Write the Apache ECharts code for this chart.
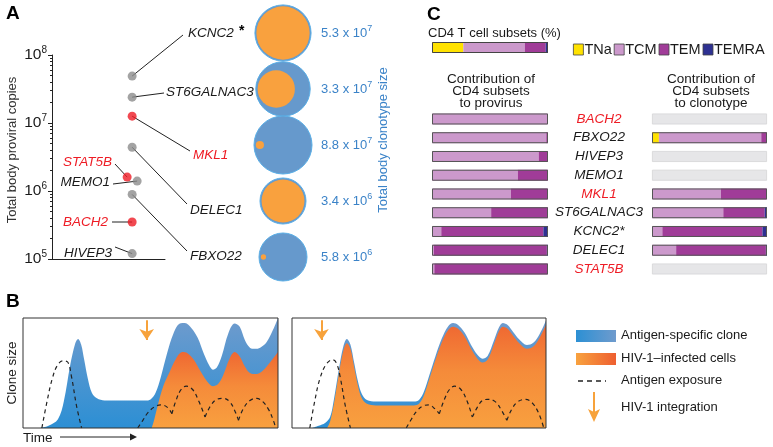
<!DOCTYPE html>
<html><head><meta charset="utf-8">
<script src="https://cdn.jsdelivr.net/npm/echarts@6/dist/echarts.min.js"></script>
<style>html,body{margin:0;padding:0;background:#fff}#c{width:773px;height:447px}</style>
</head><body><div id="c"></div>
<script>
// ---------- Panel A data ----------
const genesA = ['KCNC2','ST6GALNAC3','MKL1','DELEC1','STAT5B','MEMO1','FBXO22','BACH2','HIVEP3'];
const proviralCopies = [4.9e7, 2.4e7, 1.26e7, 4.4e6, 1.6e6, 1.4e6, 8.9e5, 3.5e5, 1.2e5];
const redGenes = ['MKL1','STAT5B','BACH2'];
const circleGenes = ['KCNC2','ST6GALNAC3','MKL1','DELEC1','FBXO22'];
const clonotypeSize = [5.3e7, 3.3e7, 8.8e7, 3.4e6, 5.8e6];
const infectedFraction = [0.9, 0.47, 0.02, 0.87, 0.012];
const yTicksA = [1e5, 1e6, 1e7, 1e8];

// ---------- Panel C data ----------
const subsetNames = ['TNa','TCM','TEM','TEMRA'];
const overallSubsets = [27, 53, 18, 2];
const genesC = ['BACH2','FBXO22','HIVEP3','MEMO1','MKL1','ST6GALNAC3','KCNC2*','DELEC1','STAT5B'];
const provirusTNa   = [0, 0, 0, 0, 0, 0, 0, 0, 0];
const provirusTCM   = [100, 98.5, 92, 74, 68, 51, 8, 1.5, 2];
const provirusTEM   = [0, 1.5, 8, 26, 32, 49, 88, 97.5, 98];
const provirusTEMRA = [0, 0, 0, 0, 0, 0, 4, 1, 0];
const clonotypeTNa   = [0, 6, 0, 0, 0, 0, 0, 0, 0];
const clonotypeTCM   = [0, 89, 0, 0, 60, 62, 9, 21, 0];
const clonotypeTEM   = [0, 5, 0, 0, 40, 36, 87, 78, 0];
const clonotypeTEMRA = [0, 0, 0, 0, 0, 2, 4, 1, 0];

// ---------- Panel B data (schematic, time %, size %) ----------
const b1Clone = [[6.7,0],[10,2],[13.7,8],[16,24],[18.5,57],[20.5,77],[21.6,81],[22.8,76],[24,62],[25.5,44],[27,32],[29,27],[32,25],[40,25],[48,25],[50,26],[52,32],[54,46],[56.5,68],[59,86],[61.5,95],[63.5,95.5],[66,91],[68.5,82],[71,67],[73,57],[74.5,53],[76,55],[78,66],[80.5,86],[83,95],[85,92],[87,80],[89,73],[91,72],[93,73],[95.5,78],[98,89],[100,100]];
const b1Infected = [[50.5,0],[51.5,8],[53,22],[55,38],[57.5,51],[60,63],[62.5,69],[64.5,68],[67,62],[69.5,52],[72,43],[74.5,38],[76.5,40],[78.5,48],[81,63],[83,69],[85,65],[87,56],[89,50],[91.5,49],[94,52],[97,60],[100,69]];
const b1Exposure = [
  [[7.4,0],[9.5,25],[11.5,45],[13.5,57],[15.7,61],[17.5,60],[19,47],[21,20],[23,0]],
  [[45,0],[47,7],[49,14],[51.5,19],[54,21],[56.5,19],[58.4,13]],
  [[58.4,13],[60,25],[62,35],[64,38],[66.5,35],[69,24],[71.4,10]],
  [[71.4,10],[73.5,20],[76,26],[78.5,27],[81,24],[83,16],[84.5,7]],
  [[84.5,7],[86.5,18],[89,25],[91.6,27],[94,24],[96.5,16],[98,8],[99,1]]
];
const b1Integration = 48.5;

const b2Clone = [[7.9,0],[10.5,2],[13,4.5],[15,10],[16.5,26],[18.5,54],[20.2,74],[21.6,81],[23,76],[24.5,59],[26,42],[27.5,31],[29.5,25.5],[33,24],[48,24],[50,25.5],[52,33.5],[54,47.5],[56.5,65.5],[59,81.5],[61.5,92.5],[63.4,95.5],[65.5,93.5],[68,86.5],[70.5,75.5],[73,66.5],[75,63],[77,65.5],[79.5,79.5],[81.5,91.5],[83,95.5],[85,93.5],[87,87.5],[89.5,80.5],[92.5,75.5],[95,77.5],[97.5,85.5],[100,98]];
const b2Infected = [[13.8,0],[15,6],[16.5,22],[18.5,50],[20.2,70],[21.6,77],[23,72],[24.5,55],[26,38],[27.5,27],[29.5,22],[33,20.5],[40,20.5],[48,20.5],[50,22],[52,30],[54,44],[56.5,62],[59,78],[61.5,89],[63.4,92],[65.5,90],[68,83],[70.5,72],[73,63],[75,59.5],[77,62],[79.5,76],[81.5,88],[83,92],[85,90],[87,84],[89.5,77],[92.5,72],[95,74],[97.5,82],[100,94]];
const b2Exposure = [
  [[7,0],[9,25],[11,45],[13.5,58],[16,62],[17.5,59],[19,46],[21,20],[23,0]],
  [[45,0],[47,8],[49,15],[51.5,20],[54,21],[56,18],[58,13]],
  [[58,13],[60,26],[62,35],[64,38],[66.5,35],[69,24],[71,10]],
  [[71,10],[73,19],[75,25],[77,26],[80,24],[82.5,16],[84.6,7]],
  [[84.6,7],[86.5,17],[89,24],[92,26],[94.5,23],[97,14],[99,1]]
];
const b2Integration = 11.6;

// ---------- styling / layout ----------
const FONT = 'Arial, "Liberation Sans", Helvetica, sans-serif';
const RED = '#ee1c25', GREY = '#8c8c8c', TXT = '#1a1a1a', BLUE_TXT = '#3b83c8';
const SUBSET_COLORS = ['#ffe200', '#cc99cc', '#a03c98', '#2e3192'];
const ORANGE = '#f7a23b';
const dotNudge = {STAT5B: -5, MEMO1: 5};
const labelLayoutA = {
  KCNC2:      {tx:188, ty:33,  lx:183, ly:35,  align:'left'},
  ST6GALNAC3: {tx:166, ty:92,  lx:164, ly:93,  align:'left'},
  MKL1:       {tx:193, ty:155, lx:190, ly:151, align:'left'},
  DELEC1:     {tx:190, ty:210, lx:187, ly:204, align:'left'},
  FBXO22:     {tx:190, ty:256, lx:187, ly:251, align:'left'},
  STAT5B:     {tx:112, ty:162, lx:115, ly:164, align:'right'},
  MEMO1:      {tx:110, ty:182, lx:113, ly:184, align:'right'},
  BACH2:      {tx:108, ty:222, lx:112, ly:222, align:'right'},
  HIVEP3:     {tx:112, ty:253, lx:115, ly:247, align:'right'}
};

const chart = echarts.init(document.getElementById('c'), null, {renderer: 'canvas'});

const hidden = {show:false};
function hiddenValueAxis(grid, min, max, extra) {
  return Object.assign({gridIndex: grid, type:'value', min:min, max:max, show:false, splitLine:hidden}, extra || {});
}
function outerDiam(v) { return 8.5 * Math.log10(v) - 9.5; }
function sci(v) {
  const e = Math.floor(Math.log10(v));
  const m = (v / Math.pow(10, e)).toFixed(1);
  return '{t|' + m + ' x 10}{s|' + e + '}';
}

const series = [];

// Panel A dots
series.push({
  type:'scatter', xAxisIndex:0, yAxisIndex:0, symbolSize:9, z:5,
  data: genesA.map((g, i) => ({
    value:[1, proviralCopies[i]],
    symbolOffset:[dotNudge[g] || 0, 0],
    itemStyle:{color: redGenes.includes(g) ? RED : GREY}
  }))
});

// Panel A circles
const outerD = clonotypeSize.map(outerDiam);
series.push({
  type:'scatter', xAxisIndex:1, yAxisIndex:1,
  data: circleGenes.map((g, i) => ({value:[0, i], symbolSize: outerD[i]})),
  itemStyle:{color:'#6699cc', borderColor:'#59aee6', borderWidth:1, opacity:1},
  label:{show:true, position:'right', formatter: p => sci(clonotypeSize[p.dataIndex]),
    rich:{t:{fontSize:13, color:BLUE_TXT, fontFamily:FONT}, s:{fontSize:9, color:BLUE_TXT, fontFamily:FONT, padding:[0,0,8,0]}}},
  labelLayout:{x:321, align:'left', verticalAlign:'middle', dy:0}
});
series.push({
  type:'scatter', xAxisIndex:1, yAxisIndex:1, z:3,
  data: circleGenes.map((g, i) => {
    const d = outerD[i] * Math.sqrt(infectedFraction[i]);
    const off = Math.max(0, (outerD[i] - d) / 2 - 1.8);
    return {value:[0, i], symbolSize: d, symbolOffset:[-off, 0]};
  }),
  itemStyle:{color:'#f9a13e', opacity:1}
});

// Panel C overall bar
subsetNames.forEach((n, k) => series.push({
  type:'bar', name:n, xAxisIndex:2, yAxisIndex:2, stack:'all', barWidth:11,
  data:[overallSubsets[k]], itemStyle:{color:SUBSET_COLORS[k]}
}));
series.push({type:'bar', xAxisIndex:2, yAxisIndex:2, barWidth:11, barGap:'-100%', silent:true, z:3,
  data:[overallSubsets.reduce((a, b) => a + b, 0)],
  itemStyle:{color:'rgba(0,0,0,0)', borderColor:'#444', borderWidth:1}});

// Panel C provirus / clonotype bars
const provirus = [provirusTNa, provirusTCM, provirusTEM, provirusTEMRA];
const clonotype = [clonotypeTNa, clonotypeTCM, clonotypeTEM, clonotypeTEMRA];
function rowSum(sets, i) { return sets.reduce((a, s) => a + s[i], 0); }
[[provirus, 3], [clonotype, 4]].forEach(([sets, ax]) => {
  sets.forEach((arr, k) => series.push({
    type:'bar', name:subsetNames[k], xAxisIndex:ax, yAxisIndex:ax, stack:'s' + ax, barWidth:11, barGap:'-100%',
    data: arr.map(v => v || null), itemStyle:{color:SUBSET_COLORS[k]}
  }));
  series.push({type:'bar', xAxisIndex:ax, yAxisIndex:ax, stack:'s' + ax, barWidth:11, barGap:'-100%', silent:true,
    data: genesC.map((g, i) => rowSum(sets, i) > 0 ? null : 100),
    itemStyle:{color:'#e6e6e8', borderColor:'#d4d4d6', borderWidth:0.8}});
  series.push({type:'bar', xAxisIndex:ax, yAxisIndex:ax, barWidth:11, barGap:'-100%', silent:true, z:3,
    data: genesC.map((g, i) => { const s = rowSum(sets, i); return s > 0 ? s : null; }),
    itemStyle:{color:'rgba(0,0,0,0)', borderColor:'#555', borderWidth:1}});
});

// Panel B
const blueGrad = new echarts.graphic.LinearGradient(0, 0, 0, 1, [{offset:0, color:'#6f9bcd'}, {offset:1, color:'#2c8fd4'}]);
const orangeGrad = new echarts.graphic.LinearGradient(0, 0, 0, 1, [{offset:0, color:'#ef6832'}, {offset:0.45, color:'#f58b3a'}, {offset:1, color:'#f8a03f'}]);
function areaSeries(ax, data, grad) {
  return {type:'line', xAxisIndex:ax, yAxisIndex:ax, data:data, smooth:0.35, symbol:'none',
    lineStyle:{width:0}, areaStyle:{color:grad, opacity:1}, silent:true};
}
[[5, b1Clone, b1Infected, b1Exposure, b1Integration], [6, b2Clone, b2Infected, b2Exposure, b2Integration]].forEach(([ax, cl, inf, expo, integ]) => {
  const s = areaSeries(ax, cl, blueGrad);
  s.markLine = {silent:true, symbol:['none', 'arrow'], symbolSize:[11, 11], label:{show:false},
    lineStyle:{color:ORANGE, width:2, type:'solid'},
    data:[[{coord:[integ, 98]}, {coord:[integ, 80]}]]};
  series.push(s);
  series.push(areaSeries(ax, inf, orangeGrad));
  expo.forEach(arc => series.push({type:'line', xAxisIndex:ax, yAxisIndex:ax, data:arc, smooth:0.4, symbol:'none', silent:true, z:4,
    lineStyle:{color:'#222', width:1.2, type:[4, 3.5]}}));
});

const option = {
  animation:false,
  backgroundColor:'#fff',
  textStyle:{fontFamily:FONT},
  legend:{left:573, top:42, itemWidth:10, itemHeight:11, itemGap:2, padding:0, selectedMode:false,
    data:subsetNames, icon:'rect',
    itemStyle:{borderColor:'#444', borderWidth:0.8},
    textStyle:{fontSize:14.5, color:TXT, fontFamily:FONT, padding:[0, 0, 0, -4]}},
  grid:[
    {left:52, top:55, width:113, height:204},
    {left:255, top:5, width:56, height:280},
    {left:432, top:42, width:116, height:11},
    {left:432, top:109.6, width:116, height:168.75},
    {left:652, top:109.6, width:115, height:168.75},
    {left:23, top:318, width:255, height:110, show:true, borderColor:'#333', borderWidth:1, backgroundColor:'rgba(0,0,0,0)', z:5},
    {left:292, top:318, width:254, height:110, show:true, borderColor:'#333', borderWidth:1, backgroundColor:'rgba(0,0,0,0)', z:5}
  ],
  xAxis:[
    {gridIndex:0, type:'value', min:0, max:1.41, axisLine:{show:true, onZero:false, lineStyle:{color:'#222', width:1}},
      axisTick:hidden, axisLabel:hidden, splitLine:hidden},
    hiddenValueAxis(1, -1, 1),
    hiddenValueAxis(2, 0, 100),
    hiddenValueAxis(3, 0, 100),
    hiddenValueAxis(4, 0, 100),
    hiddenValueAxis(5, 0, 100),
    hiddenValueAxis(6, 0, 100)
  ],
  yAxis:[
    {gridIndex:0, type:'log', logBase:10, min:yTicksA[0], max:yTicksA[yTicksA.length - 1],
      axisLine:{show:true, onZero:false, lineStyle:{color:'#222', width:1}},
      axisTick:{show:true, length:4, lineStyle:{color:'#222'}},
      minorTick:{show:true, splitNumber:9, length:2, lineStyle:{color:'#222'}},
      splitLine:hidden,
      axisLabel:{margin:5, formatter: v => '{b|10}{s|' + Math.round(Math.log10(v)) + '}',
        rich:{b:{fontSize:15.5, color:TXT, fontFamily:FONT}, s:{fontSize:10, color:TXT, fontFamily:FONT, padding:[0,0,9,0]}}}},
    {gridIndex:1, type:'category', data:circleGenes, inverse:true, show:false},
    {gridIndex:2, type:'category', data:['CD4'], show:false},
    {gridIndex:3, type:'category', data:genesC, inverse:true, position:'right',
      axisLine:hidden, axisTick:hidden,
      axisLabel:{margin:51, align:'center',
        formatter: v => (redGenes.includes(v) ? '{r|' : '{k|') + v + '}',
        rich:{r:{color:RED, fontStyle:'italic', fontSize:13.5, fontFamily:FONT},
              k:{color:TXT, fontStyle:'italic', fontSize:13.5, fontFamily:FONT}}}},
    {gridIndex:4, type:'category', data:genesC, inverse:true, show:false},
    hiddenValueAxis(5, 0, 100),
    hiddenValueAxis(6, 0, 100)
  ],
  series: series
};
chart.setOption(option);

// ---------- annotations ----------
const g = [];
function txt(x, y, text, o) {
  o = o || {};
  const el = {type:'text', x:x, y:y, rotation:o.rotation || 0, z:10, silent:true,
    style:{text:text, fill:o.fill || TXT, fontSize:o.size || 13, fontFamily:FONT,
      fontStyle:o.italic ? 'italic' : 'normal', fontWeight:o.bold ? 'bold' : 'normal',
      textAlign:o.align || 'left', textVerticalAlign:'middle', lineHeight:o.lh}};
  g.push(el);
}
// panel letters
txt(6, 14, 'A', {size:19, bold:true, fill:'#000'});
txt(6, 302, 'B', {size:19, bold:true, fill:'#000'});
txt(427, 15, 'C', {size:19, bold:true, fill:'#000'});

// Panel A labels and connectors
genesA.forEach((gname, i) => {
  const L = labelLayoutA[gname];
  const p = chart.convertToPixel({xAxisIndex:0, yAxisIndex:0}, [1, proviralCopies[i]]);
  const px = p[0] + (dotNudge[gname] || 0), py = p[1];
  g.push({type:'line', silent:true, z:1, shape:{x1:px, y1:py, x2:L.lx, y2:L.ly}, style:{stroke:'#222', lineWidth:1}});
  txt(L.tx, L.ty, gname, {italic:true, size:13.5, align:L.align, fill: redGenes.includes(gname) ? RED : TXT});
});
txt(239, 31, '*', {size:14, bold:true, fill:'#000'});
txt(12, 150, 'Total body proviral copies', {size:13, fill:'#333', align:'center', rotation:Math.PI / 2});
txt(383, 140, 'Total body clonotype size', {size:13, fill:BLUE_TXT, align:'center', rotation:Math.PI / 2});

// Panel C texts
txt(428, 33, 'CD4 T cell subsets (%)', {size:13});
txt(491, 91, 'Contribution of\nCD4 subsets\nto provirus', {size:13.5, align:'center', lh:12});
txt(711, 91, 'Contribution of\nCD4 subsets\nto clonotype', {size:13.5, align:'center', lh:12});

// Panel B axis texts
txt(12, 373, 'Clone size', {size:13.5, align:'center', rotation:Math.PI / 2});
txt(23, 438, 'Time', {size:13.5});
g.push({type:'line', silent:true, shape:{x1:60, y1:437, x2:131, y2:437}, style:{stroke:'#222', lineWidth:1}});
g.push({type:'polygon', silent:true, shape:{points:[[130, 433.5], [137, 437], [130, 440.5]]}, style:{fill:'#222'}});

// Panel B legend
g.push({type:'rect', silent:true, shape:{x:576, y:330, width:40, height:12},
  style:{fill:new echarts.graphic.LinearGradient(0, 0, 1, 0, [{offset:0, color:'#2c90d4'}, {offset:1, color:'#6f9bcd'}])}});
txt(621, 335, 'Antigen-specific clone', {size:13});
g.push({type:'rect', silent:true, shape:{x:576, y:353, width:40, height:12},
  style:{fill:new echarts.graphic.LinearGradient(0, 0, 1, 0, [{offset:0, color:'#f8a23f'}, {offset:1, color:'#ee5f30'}])}});
txt(621, 358, 'HIV-1\u2013infected cells', {size:13});
g.push({type:'line', silent:true, shape:{x1:578, y1:381, x2:606, y2:381}, style:{stroke:'#222', lineWidth:1.3, lineDash:[5, 4]}});
txt(621, 380, 'Antigen exposure', {size:13});
g.push({type:'line', silent:true, shape:{x1:594, y1:392, x2:594, y2:412}, style:{stroke:ORANGE, lineWidth:2}});
g.push({type:'polygon', silent:true, shape:{points:[[588, 409], [594, 422], [600, 409], [594, 412]]}, style:{fill:ORANGE}});
txt(621, 407, 'HIV-1 integration', {size:13});

chart.setOption({graphic:g});
</script>
</body></html>
